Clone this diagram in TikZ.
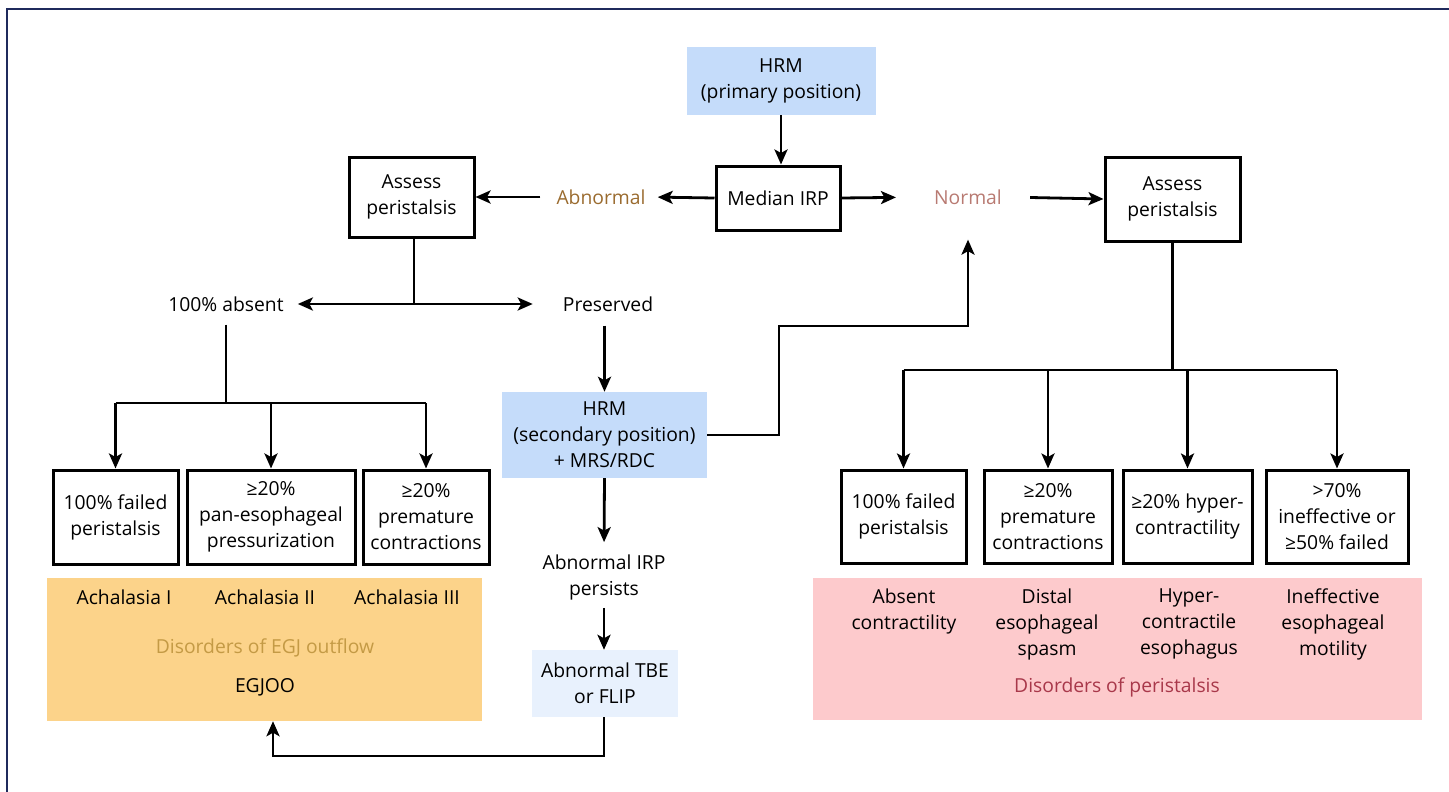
\documentclass[tikz,border=0pt]{standalone}
\usepackage{fontspec}
\setmainfont{Open Sans}
\usetikzlibrary{arrows.meta}
\definecolor{hrmblue}{HTML}{C5DCFA}
\definecolor{lightblue}{HTML}{E8F1FD}
\definecolor{orangepanel}{HTML}{FCD38A}
\definecolor{pinkpanel}{HTML}{FDCACC}
\definecolor{abncol}{HTML}{9A6B2F}
\definecolor{nrmcol}{HTML}{B87A72}
\definecolor{egjcol}{HTML}{C49A45}
\definecolor{pericol}{HTML}{A8384A}
\definecolor{framecol}{HTML}{1F2A5C}
\tikzset{
  txt/.style={font=\fontsize{19.3}{26}\selectfont, align=center, inner sep=4pt, text=black},
  bbox/.style={txt, draw=black, line width=3pt},
  bluebox/.style={txt, fill=hrmblue},
  conn/.style={line width=2.8pt, draw=black},
  arr/.style={conn, -{Stealth[length=15pt,width=13pt,inset=3.5pt]}},
  darr/.style={conn, {Stealth[length=15pt,width=13pt,inset=3.5pt]}-{Stealth[length=15pt,width=13pt,inset=3.5pt]}},
}
\begin{document}
\begin{tikzpicture}[x=1pt,y=-1pt]
\useasboundingbox (0,0) rectangle (1449,792);
\draw[framecol, line width=2pt] (6.5,792) -- (6.5,9.5) -- (1449,9.5);

% top
\node[bluebox, minimum width=189pt, minimum height=68pt] (hrm1) at (781,81) {HRM\\(primary position)};
\node[bbox, minimum width=124pt, minimum height=64pt] (irp) at (778,198) {Median IRP};
\node[txt, text=abncol] (abn) at (601,197) {Abnormal};
\node[txt, text=nrmcol] (nrm) at (968,197) {Normal};
\node[bbox, minimum width=125pt, minimum height=80pt] (asL) at (411.5,197) {Assess\\peristalsis};
\node[bbox, minimum width=135pt, minimum height=84pt] (asR) at (1172.5,199) {Assess\\peristalsis};

\draw[arr] (hrm1.south) -- (hrm1.south |- irp.north);
\draw[arr, shorten >=8pt] (irp.west) -- (abn.east);
\draw[arr, shorten <=12pt] (abn.west) -- (asL.east);
\draw[arr, shorten >=34pt] (irp.east) -- (nrm.west);
\draw[arr, shorten <=24pt] (nrm.east) -- (asR.west);

% left branch
\node[txt] (absent) at (226,304) {100\% absent};
\node[txt] (pres) at (608,304) {Preserved};
\coordinate (jL) at (414,304);
\draw[conn] (asL.south -| jL) -- (jL);
\draw[darr, shorten <=10pt, shorten >=26pt] (absent.east) -- (pres.west);

\node[bbox, minimum width=125pt, minimum height=94pt] (L1) at (115.5,517) {100\% failed\\peristalsis};
\node[bbox, minimum width=168pt, minimum height=94pt] (L2) at (271,517) {≥20\%\\pan-esophageal\\pressurization};
\node[bbox, minimum width=126pt, minimum height=94pt] (L3) at (426,517) {≥20\%\\premature\\contractions};

\coordinate (busL) at (226,403);
\draw[conn, shorten <=9pt] (absent.south) -- (busL);
\draw[conn] (L1.north |- busL) -- (L3.north |- busL);
\draw[arr] (L1.north |- busL) -- (L1.north);
\draw[arr] (L2.north |- busL) -- (L2.north);
\draw[arr] (L3.north |- busL) -- (L3.north);

\node[fill=orangepanel, minimum width=435pt, minimum height=143pt, inner sep=0pt] (egj) at (264.5,649.5) {};
\node[txt] (ach1) at (124,597) {Achalasia I};
\node[txt] (ach2) at (265,597) {Achalasia II};
\node[txt] (ach3) at (407,597) {Achalasia III};
\node[txt, text=egjcol] (egjlab) at (265,648) {Disorders of EGJ outflow};
\node[txt] (egjoo) at (265,687) {EGJOO};

% middle column
\node[bluebox, minimum width=205pt, minimum height=86pt] (hrm2) at (604.5,435) {HRM\\(secondary position)\\+ MRS/RDC};
\node[txt] (persist) at (604,577) {Abnormal IRP\\persists};
\node[txt, fill=lightblue, minimum width=146pt, minimum height=67pt] (tbe) at (605,683.5) {Abnormal TBE\\or FLIP};

\draw[arr, shorten <=10pt] (hrm2.north |- pres.south) -- (hrm2.north);
\coordinate (k) at (779,326);
\draw[arr, shorten >=31pt] (hrm2.east) -| (k) -| (nrm.south);
\draw[arr, shorten >=8pt] (hrm2.south) -- (persist.north);
\draw[arr, shorten <=4pt] (persist.south) -- (tbe.north -| persist.south);
\coordinate (b) at (273,756);
\draw[arr] (tbe.south -| persist.south) |- (b) -- (b |- egj.south);

% right branch
\node[bbox, minimum width=125pt, minimum height=93pt] (R1) at (903.5,516.5) {100\% failed\\peristalsis};
\node[bbox, minimum width=128pt, minimum height=93pt] (R2) at (1048,516.5) {≥20\%\\premature\\contractions};
\node[bbox, minimum width=129pt, minimum height=93pt] (R3) at (1187.5,516.5) {≥20\% hyper-\\contractility};
\node[bbox, minimum width=142pt, minimum height=93pt] (R4) at (1337,516.5) {>70\%\\ineffective or\\≥50\% failed};

\coordinate (busR) at (1172.5,370);
\draw[conn] (asR.south) -- (busR);
\draw[conn] (R1.north |- busR) -- (R4.north |- busR);
\draw[arr] (R1.north |- busR) -- (R1.north);
\draw[arr] (R2.north |- busR) -- (R2.north);
\draw[arr] (R3.north |- busR) -- (R3.north);
\draw[arr] (R4.north |- busR) -- (R4.north);

\node[fill=pinkpanel, minimum width=609pt, minimum height=142pt, inner sep=0pt] (peri) at (1117.5,649) {};
\node[txt] (d1) at (904,611) {Absent\\contractility};
\node[txt] (d2) at (1047,624) {Distal\\esophageal\\spasm};
\node[txt] (d3) at (1189,624) {Hyper-\\contractile\\esophagus};
\node[txt] (d4) at (1333,624) {Ineffective\\esophageal\\motility};
\node[txt, text=pericol] (perilab) at (1117,687) {Disorders of peristalsis};
\end{tikzpicture}
\end{document}
